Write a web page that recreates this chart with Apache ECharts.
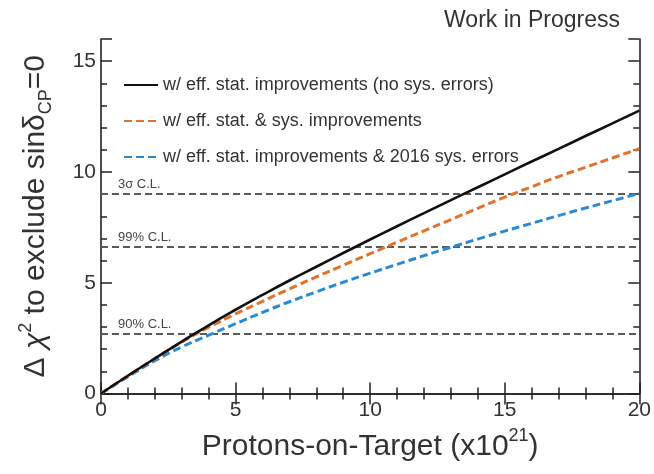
<!DOCTYPE html>
<html>
<head>
<meta charset="utf-8">
<script src="https://cdn.jsdelivr.net/npm/echarts@6/dist/echarts.min.js"></script>
<style>
  html, body { margin: 0; padding: 0; background: #fff; }
  #chart { width: 654px; height: 474px; }
</style>
</head>
<body>
<div id="chart"></div>
<script>
// ---- data ----
const pot = [0, 1, 2, 3, 4, 5, 6, 7, 8, 9, 10, 11, 12, 13, 14, 15, 16, 17, 18, 19, 20];
const noSys = [0, 0.80, 1.58, 2.34, 3.08, 3.78, 4.45, 5.10, 5.72, 6.34, 6.95, 7.55, 8.14, 8.73, 9.31, 9.89, 10.47, 11.04, 11.62, 12.19, 12.77];
const statSys = [0, 0.80, 1.58, 2.32, 2.99, 3.59, 4.16, 4.72, 5.26, 5.79, 6.31, 6.83, 7.34, 7.85, 8.36, 8.86, 9.33, 9.79, 10.21, 10.63, 11.05];
const sys2016 = [0, 0.76, 1.48, 2.10, 2.63, 3.15, 3.66, 4.14, 4.59, 5.02, 5.43, 5.83, 6.22, 6.60, 6.97, 7.33, 7.68, 8.03, 8.37, 8.70, 9.03];
const seriesNames = [
  'w/ eff. stat. improvements (no sys. errors)',
  'w/ eff. stat. & sys. improvements',
  'w/ eff. stat. improvements & 2016 sys. errors'
];
const clLevels = [9.0, 6.63, 2.71];
const clLabels = ['3\u03c3 C.L.', '99% C.L.', '90% C.L.'];
const xTicks = [0, 5, 10, 15, 20];
const yTicks = [0, 5, 10, 15];

// ---- chart ----
const FONT = 'Liberation Sans';
const AX = '#222';
const chart = echarts.init(document.getElementById('chart'), null, { renderer: 'canvas' });

function pairs(ys) { return pot.map((x, i) => [x, ys[i]]); }

const baseAxisLine = { show: true, lineStyle: { color: AX, width: 1.6 } };

const xCommon = {
  type: 'value', min: 0, max: 20, interval: 5,
  splitLine: { show: false },
  axisLine: baseAxisLine,
  axisTick: { show: true, inside: true, length: 11, lineStyle: { color: AX, width: 1.5 } },
  minorTick: { show: true, splitNumber: 5, length: 6, lineStyle: { color: AX, width: 1.5 } },
  minorSplitLine: { show: false }
};

function yMajor(pos, labels) {
  return {
    type: 'value', position: pos, min: 0, max: 16, interval: 5,
    splitLine: { show: false },
    axisLine: baseAxisLine,
    axisTick: { show: true, inside: true, length: 11, lineStyle: { color: AX, width: 1.5 } },
    axisLabel: labels ? {
      show: true, fontFamily: FONT, fontSize: 21, color: '#333', margin: 5,
      formatter: v => (yTicks.indexOf(v) >= 0 ? String(v) : '')
    } : { show: false }
  };
}
function yMinor(pos) {
  return {
    type: 'value', position: pos, min: 0, max: 16, interval: 1,
    splitLine: { show: false },
    axisLine: { show: false },
    axisTick: { show: true, inside: true, length: 6, lineStyle: { color: AX, width: 1.5 } },
    axisLabel: { show: false }
  };
}

const yName = '{d|\u0394 }{chi|\u03c7}{sup|2}{t| to exclude sin\u03b4}{sub|CP}{t|=0}';
const xName = '{t|Protons-on-Target (x10}{sup|21}{t|)}';
const titleFs = 30;
const rich = {
  t: { fontFamily: FONT, fontSize: titleFs, color: '#333', lineHeight: 38 },
  d: { fontFamily: FONT, fontSize: titleFs, color: '#333', lineHeight: 38 },
  chi: { fontFamily: FONT, fontSize: titleFs, fontStyle: 'italic', color: '#333', lineHeight: 38 },
  sup: { fontFamily: FONT, fontSize: 18, color: '#333', verticalAlign: 'top', lineHeight: 18 },
  sub: { fontFamily: FONT, fontSize: 18, color: '#333', verticalAlign: 'bottom', lineHeight: 18 }
};

const option = {
  backgroundColor: '#fff',
  animation: false,
  title: {
    text: 'Work in Progress', right: 34, top: 9, padding: 0,
    textStyle: { fontFamily: FONT, fontSize: 23, fontWeight: 'normal', color: '#333' }
  },
  grid: { left: 101, right: 14, top: 39, bottom: 80.5, containLabel: false },
  legend: {
    orient: 'vertical', left: 123, top: 76, padding: 0,
    itemWidth: 34, itemHeight: 14, itemGap: 18,
    itemStyle: { opacity: 0 },
    textStyle: { fontFamily: FONT, fontSize: 18, color: '#333' },
    data: seriesNames
  },
  xAxis: [
    Object.assign({}, xCommon, {
      position: 'bottom',
      axisLabel: {
        show: true, fontFamily: FONT, fontSize: 21, color: '#333', margin: 6,
        formatter: v => (xTicks.indexOf(v) >= 0 ? String(v) : '')
      },
      name: xName, nameLocation: 'middle', nameGap: 34,
      nameTextStyle: { rich: rich }
    }),
    Object.assign({}, xCommon, { position: 'top', axisLabel: { show: false } })
  ],
  yAxis: [
    Object.assign(yMajor('left', true), {
      name: yName, nameLocation: 'middle', nameGap: 46, nameRotate: 90,
      nameTextStyle: { rich: rich }
    }),
    yMinor('left'),
    yMajor('right', false),
    yMinor('right')
  ],
  series: [
    {
      name: seriesNames[0], type: 'line', data: pairs(noSys), smooth: true,
      showSymbol: false, symbol: 'none', z: 5,
      lineStyle: { color: '#111', width: 2.6, type: 'solid' },
      itemStyle: { color: '#111' },
      markLine: {
        silent: true, symbol: 'none', z: 1,
        lineStyle: { color: '#5a5a5a', width: 2.2, type: [7, 4] },
        label: {
          show: true, position: 'insideStartTop', distance: [17, 3],
          fontFamily: FONT, fontSize: 13, color: '#444'
        },
        data: clLevels.map((v, i) => ({ yAxis: v, label: { formatter: clLabels[i] } }))
      }
    },
    {
      name: seriesNames[1], type: 'line', data: pairs(statSys), smooth: true,
      showSymbol: false, symbol: 'none', z: 4,
      lineStyle: { color: '#e2722c', width: 3, type: [8, 4] },
      itemStyle: { color: '#e2722c' }
    },
    {
      name: seriesNames[2], type: 'line', data: pairs(sys2016), smooth: true,
      showSymbol: false, symbol: 'none', z: 3,
      lineStyle: { color: '#2a8bd4', width: 3, type: [8, 4] },
      itemStyle: { color: '#2a8bd4' }
    }
  ]
};
chart.setOption(option);
</script>
</body>
</html>
